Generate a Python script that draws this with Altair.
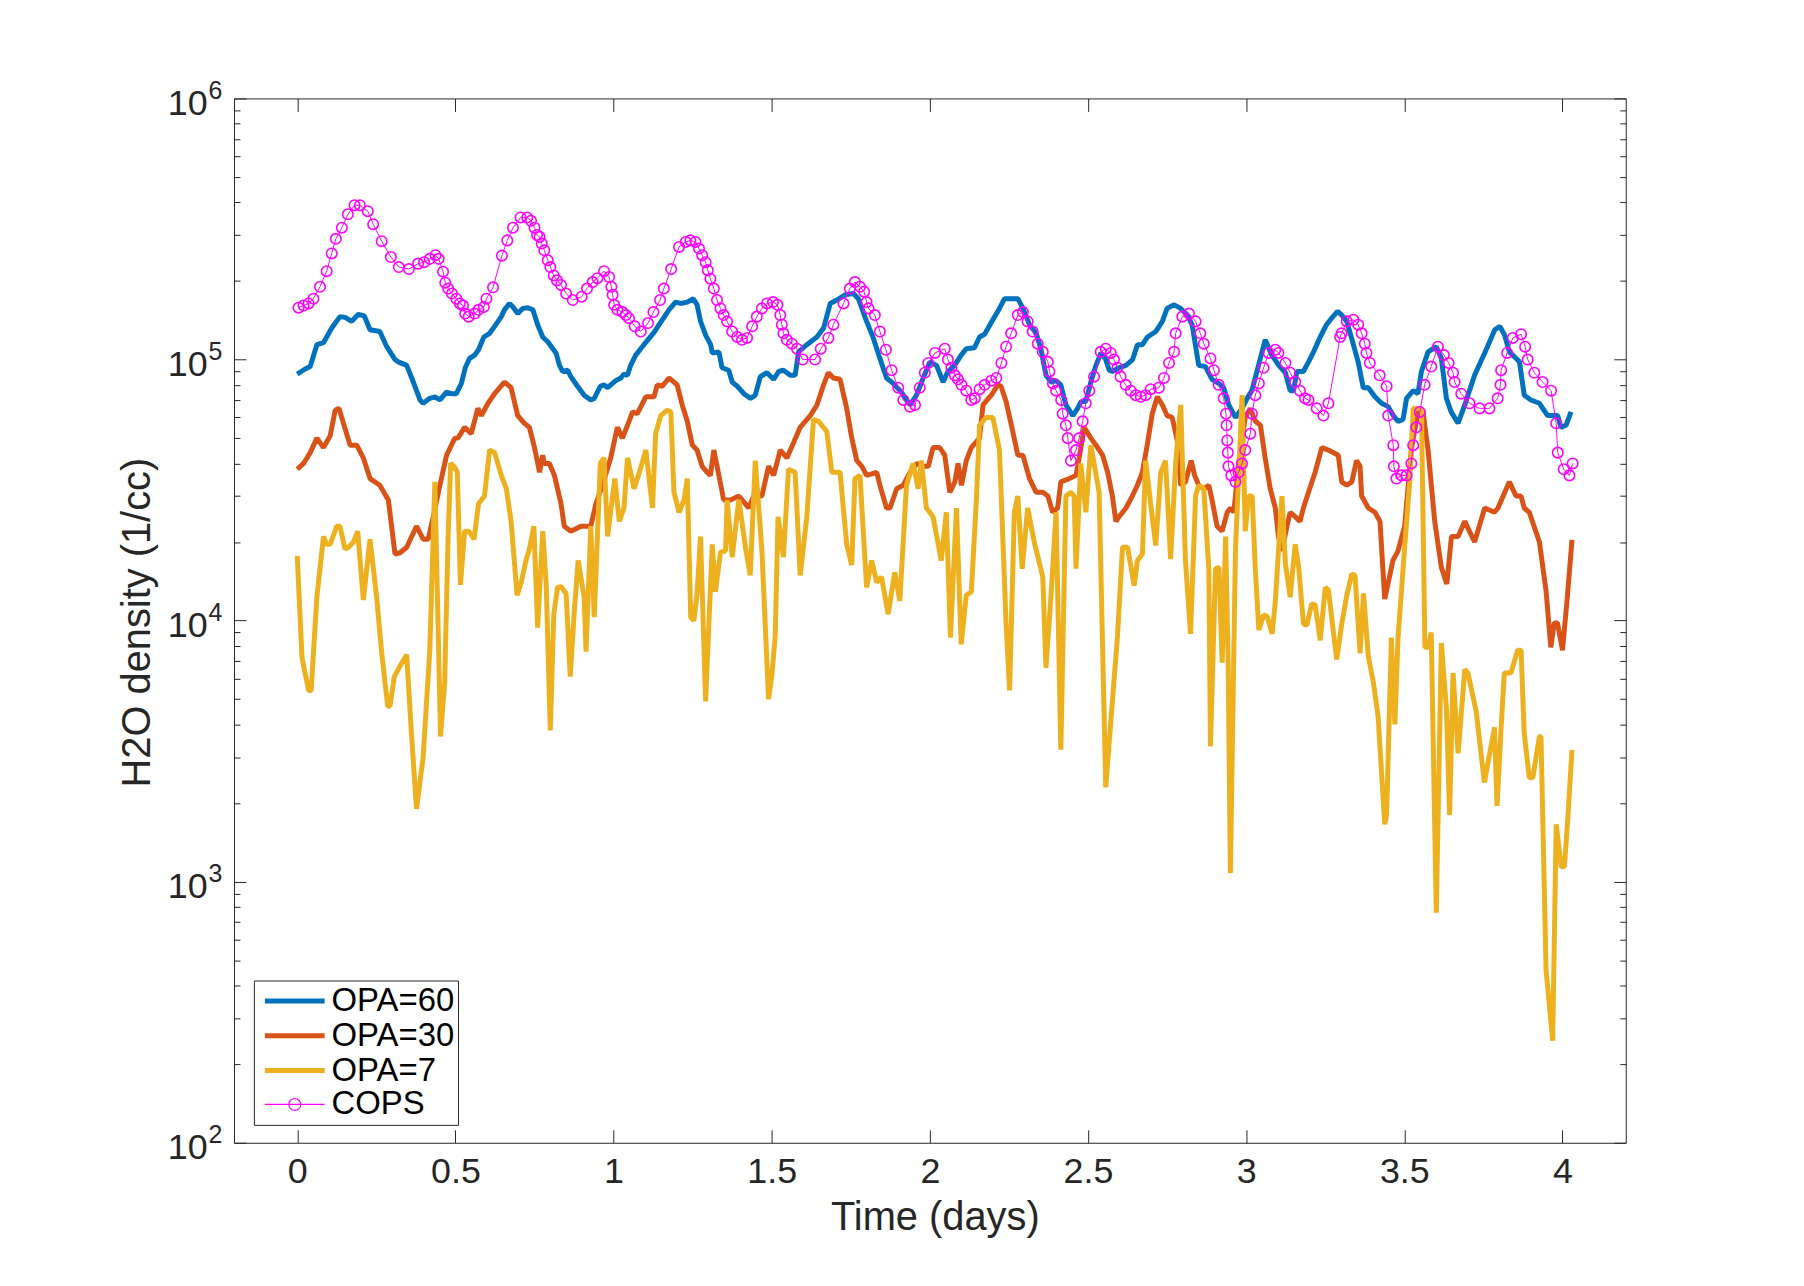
import altair as alt
import pandas as pd

# ---------------- data ----------------
series_names = ["OPA=60", "OPA=30", "OPA=7", "COPS"]
series_colors = ["#0072BD", "#D95319", "#EDB120", "#FF00FF"]

opa60_t = [0.000, 0.025, 0.041, 0.062, 0.083, 0.109, 0.135, 0.151, 0.172, 0.193, 0.212, 0.230, 0.261, 0.283, 0.309,
           0.319, 0.346, 0.367, 0.388, 0.398, 0.419, 0.435, 0.451, 0.472, 0.487, 0.503, 0.519, 0.531, 0.545, 0.561,
           0.573, 0.590, 0.608, 0.624, 0.645, 0.655, 0.671, 0.682, 0.697, 0.713, 0.729, 0.745, 0.760, 0.776, 0.792,
           0.808, 0.818, 0.829, 0.839, 0.855, 0.865, 0.886, 0.907, 0.928, 0.939, 0.958, 0.970, 0.981, 0.991, 1.007,
           1.023, 1.033, 1.044, 1.054, 1.070, 1.096, 1.128, 1.154, 1.175, 1.196, 1.212, 1.233, 1.252, 1.264, 1.275,
           1.291, 1.307, 1.312, 1.333, 1.343, 1.364, 1.375, 1.391, 1.412, 1.433, 1.448, 1.464, 1.485, 1.506, 1.522,
           1.537, 1.559, 1.574, 1.585, 1.611, 1.643, 1.664, 1.685, 1.706, 1.732, 1.758, 1.774, 1.800, 1.821, 1.842,
           1.863, 1.884, 1.910, 1.937, 1.958, 1.979, 2.000, 2.021, 2.042, 2.057, 2.078, 2.099, 2.115, 2.141, 2.157,
           2.173, 2.199, 2.220, 2.236, 2.262, 2.278, 2.294, 2.315, 2.336, 2.351, 2.367, 2.383, 2.399, 2.414, 2.430,
           2.452, 2.467, 2.478, 2.493, 2.509, 2.525, 2.541, 2.556, 2.567, 2.577, 2.598, 2.620, 2.641, 2.656, 2.672,
           2.688, 2.714, 2.735, 2.750, 2.772, 2.793, 2.814, 2.829, 2.850, 2.871, 2.892, 2.913, 2.929, 2.945, 2.966,
           2.987, 3.003, 3.018, 3.039, 3.060, 3.081, 3.103, 3.124, 3.139, 3.150, 3.160, 3.181, 3.197, 3.213, 3.234,
           3.254, 3.270, 3.289, 3.302, 3.318, 3.333, 3.354, 3.370, 3.386, 3.407, 3.428, 3.449, 3.465, 3.480, 3.496,
           3.507, 3.528, 3.543, 3.554, 3.575, 3.601, 3.617, 3.633, 3.648, 3.670, 3.691, 3.722, 3.754, 3.786, 3.802,
           3.817, 3.832, 3.864, 3.879, 3.900, 3.927, 3.953, 3.985, 3.995, 4.011, 4.027]
opa60_v = [8.8e4, 9.2e4, 9.4e4, 1.14e5, 1.16e5, 1.32e5, 1.46e5, 1.45e5, 1.40e5, 1.49e5, 1.47e5, 1.30e5, 1.28e5, 1.12e5, 1.00e5,
           9.8e4, 9.5e4, 8.2e4, 7.0e4, 6.8e4, 7.1e4, 7.2e4, 7.0e4, 7.5e4, 7.4e4, 7.4e4, 8.1e4, 9.3e4, 1.01e5, 1.04e5,
           1.09e5, 1.22e5, 1.26e5, 1.34e5, 1.46e5, 1.55e5, 1.64e5, 1.59e5, 1.50e5, 1.57e5, 1.58e5, 1.55e5, 1.36e5, 1.22e5, 1.17e5,
           1.10e5, 1.06e5, 9.5e4, 9.0e4, 9.1e4, 8.6e4, 7.9e4, 7.3e4, 7.0e4, 7.1e4, 7.9e4, 8.0e4, 7.8e4, 8.0e4, 8.3e4,
           8.5e4, 8.8e4, 8.7e4, 9.5e4, 1.04e5, 1.14e5, 1.27e5, 1.42e5, 1.55e5, 1.66e5, 1.64e5, 1.66e5, 1.71e5, 1.62e5, 1.40e5,
           1.24e5, 1.14e5, 1.06e5, 1.07e5, 9.3e4, 9.1e4, 8.2e4, 7.9e4, 7.4e4, 7.1e4, 7.3e4, 8.6e4, 8.9e4, 8.4e4, 9.0e4,
           9.1e4, 8.7e4, 8.7e4, 1.07e5, 1.14e5, 1.22e5, 1.32e5, 1.64e5, 1.69e5, 1.77e5, 1.79e5, 1.71e5, 1.40e5, 1.21e5, 1.01e5,
           8.5e4, 8.1e4, 7.5e4, 6.7e4, 7.3e4, 8.5e4, 9.8e4, 9.5e4, 8.2e4, 9.0e4, 9.5e4, 1.04e5, 1.10e5, 1.11e5, 1.22e5,
           1.25e5, 1.42e5, 1.57e5, 1.71e5, 1.71e5, 1.71e5, 1.57e5, 1.36e5, 1.26e5, 1.10e5, 8.7e4, 8.2e4, 8.3e4, 8.0e4, 6.7e4,
           6.1e4, 6.5e4, 6.9e4, 6.9e4, 8.2e4, 9.5e4, 1.06e5, 1.00e5, 9.1e4, 9.0e4, 9.3e4, 9.5e4, 1.00e5, 1.14e5, 1.14e5,
           1.22e5, 1.28e5, 1.40e5, 1.57e5, 1.62e5, 1.57e5, 1.48e5, 1.36e5, 9.5e4, 9.4e4, 8.4e4, 8.1e4, 7.8e4, 6.7e4, 6.0e4,
           6.5e4, 7.1e4, 7.6e4, 9.5e4, 1.19e5, 1.04e5, 9.5e4, 8.9e4, 7.6e4, 7.6e4, 9.0e4, 9.0e4, 9.8e4, 1.07e5, 1.22e5,
           1.36e5, 1.44e5, 1.53e5, 1.48e5, 1.40e5, 1.21e5, 9.8e4, 7.8e4, 7.8e4, 7.2e4, 6.8e4, 6.6e4, 6.1e4, 5.8e4, 5.9e4,
           7.1e4, 7.6e4, 7.4e4, 9.0e4, 1.07e5, 1.12e5, 1.01e5, 7.1e4, 6.3e4, 5.7e4, 6.7e4, 8.7e4, 1.06e5, 1.30e5, 1.34e5,
           1.24e5, 1.07e5, 9.8e4, 7.3e4, 7.0e4, 6.8e4, 6.1e4, 6.1e4, 5.5e4, 5.6e4, 6.3e4]

opa30_t = [0.000, 0.020, 0.041, 0.062, 0.083, 0.104, 0.120, 0.132, 0.146, 0.167, 0.188, 0.209, 0.230, 0.261, 0.288,
           0.309, 0.325, 0.346, 0.377, 0.398, 0.414, 0.430, 0.451, 0.472, 0.498, 0.508, 0.529, 0.550, 0.571, 0.582,
           0.603, 0.624, 0.655, 0.676, 0.697, 0.718, 0.734, 0.750, 0.766, 0.776, 0.781, 0.797, 0.813, 0.834, 0.844,
           0.865, 0.897, 0.928, 0.944, 0.965, 0.991, 1.012, 1.028, 1.049, 1.060, 1.075, 1.102, 1.128, 1.138, 1.154,
           1.175, 1.201, 1.217, 1.233, 1.249, 1.264, 1.280, 1.296, 1.306, 1.317, 1.333, 1.348, 1.370, 1.396, 1.417,
           1.427, 1.443, 1.469, 1.490, 1.506, 1.527, 1.548, 1.569, 1.590, 1.622, 1.643, 1.664, 1.679, 1.695, 1.716,
           1.737, 1.753, 1.769, 1.785, 1.800, 1.832, 1.842, 1.863, 1.874, 1.895, 1.916, 1.937, 1.958, 1.979, 1.995,
           2.010, 2.031, 2.047, 2.063, 2.079, 2.089, 2.100, 2.115, 2.131, 2.157, 2.168, 2.194, 2.215, 2.225, 2.241,
           2.262, 2.278, 2.294, 2.315, 2.336, 2.357, 2.373, 2.388, 2.404, 2.414, 2.441, 2.462, 2.472, 2.488, 2.509,
           2.525, 2.546, 2.562, 2.577, 2.588, 2.598, 2.620, 2.640, 2.656, 2.672, 2.687, 2.703, 2.719, 2.735, 2.750,
           2.766, 2.782, 2.793, 2.808, 2.826, 2.837, 2.850, 2.866, 2.882, 2.892, 2.908, 2.924, 2.940, 2.950, 2.961,
           2.976, 2.997, 3.013, 3.029, 3.045, 3.060, 3.076, 3.092, 3.102, 3.113, 3.129, 3.139, 3.155, 3.170, 3.181,
           3.197, 3.218, 3.239, 3.260, 3.291, 3.302, 3.318, 3.334, 3.349, 3.360, 3.365, 3.386, 3.407, 3.423, 3.438,
           3.464, 3.480, 3.501, 3.522, 3.543, 3.559, 3.575, 3.596, 3.617, 3.634, 3.649, 3.670, 3.691, 3.722, 3.754,
           3.785, 3.796, 3.832, 3.853, 3.869, 3.879, 3.895, 3.927, 3.948, 3.963, 3.974, 3.984, 4.000, 4.016, 4.030]
opa30_v = [3.8e4, 4.0e4, 4.4e4, 5.0e4, 4.6e4, 5.1e4, 6.4e4, 6.5e4, 5.7e4, 4.7e4, 4.7e4, 4.2e4, 3.5e4, 3.3e4, 2.9e4,
           1.80e4, 1.82e4, 1.91e4, 2.3e4, 2.05e4, 2.05e4, 2.5e4, 3.3e4, 4.3e4, 5.0e4, 5.0e4, 5.5e4, 5.2e4, 6.5e4, 6.1e4,
           6.8e4, 7.4e4, 8.2e4, 7.8e4, 6.1e4, 5.7e4, 5.5e4, 4.6e4, 3.7e4, 4.3e4, 4.0e4, 4.0e4, 3.6e4, 2.8e4, 2.3e4,
           2.2e4, 2.3e4, 2.3e4, 2.8e4, 3.3e4, 4.2e4, 5.5e4, 5.0e4, 5.8e4, 6.3e4, 6.2e4, 7.2e4, 7.2e4, 8.0e4, 7.9e4,
           8.5e4, 8.0e4, 6.7e4, 5.8e4, 4.7e4, 4.5e4, 3.9e4, 3.7e4, 3.6e4, 4.5e4, 3.6e4, 2.9e4, 2.9e4, 3.0e4, 2.8e4,
           2.7e4, 3.0e4, 3.0e4, 3.9e4, 3.6e4, 4.5e4, 4.2e4, 4.8e4, 5.5e4, 6.1e4, 6.7e4, 8.0e4, 8.9e4, 8.5e4, 8.4e4,
           6.5e4, 5.0e4, 4.1e4, 3.9e4, 3.6e4, 3.7e4, 3.3e4, 2.7e4, 2.7e4, 3.2e4, 3.3e4, 3.7e4, 4.0e4, 3.9e4, 3.9e4,
           4.6e4, 4.6e4, 4.3e4, 3.1e4, 3.4e4, 4.0e4, 3.3e4, 4.1e4, 4.6e4, 5.0e4, 6.7e4, 7.3e4, 8.0e4, 7.9e4, 6.9e4,
           5.3e4, 4.3e4, 4.3e4, 3.5e4, 3.1e4, 3.1e4, 3.0e4, 2.6e4, 2.7e4, 3.4e4, 3.5e4, 3.6e4, 4.2e4, 5.5e4, 5.0e4,
           4.7e4, 4.3e4, 3.7e4, 3.0e4, 2.4e4, 2.5e4, 2.7e4, 3.0e4, 3.3e4, 3.7e4, 4.7e4, 6.2e4, 7.2e4, 6.7e4, 6.1e4,
           6.0e4, 4.9e4, 3.3e4, 3.4e4, 4.1e4, 3.6e4, 3.3e4, 3.2e4, 3.3e4, 2.9e4, 2.3e4, 2.2e4, 2.6e4, 2.7e4, 2.6e4,
           4.0e4, 6.0e4, 6.5e4, 5.8e4, 5.6e4, 4.2e4, 3.2e4, 2.7e4, 2.1e4, 1.85e4, 2.3e4, 2.6e4, 2.5e4, 2.4e4, 2.7e4,
           3.1e4, 3.7e4, 4.6e4, 4.5e4, 4.3e4, 3.4e4, 3.3e4, 3.4e4, 4.1e4, 3.9e4, 3.0e4, 2.7e4, 2.6e4, 2.4e4, 1.21e4,
           1.7e4, 1.85e4, 2.3e4, 4.5e4, 6.3e4, 6.3e4, 4.5e4, 2.4e4, 1.6e4, 1.38e4, 2.1e4, 2.1e4, 2.4e4, 2.0e4, 2.7e4,
           2.6e4, 2.7e4, 3.4e4, 3.0e4, 3.0e4, 2.7e4, 2.6e4, 2.0e4, 1.3e4, 7.9e3, 9.8e3, 9.8e3, 7.7e3, 1.26e4, 2.04e4]

opa7_t = [0.000, 0.015, 0.036, 0.044, 0.062, 0.083, 0.093, 0.104, 0.125, 0.135, 0.151, 0.162, 0.177, 0.191, 0.209,
          0.230, 0.251, 0.267, 0.286, 0.293, 0.307, 0.325, 0.346, 0.361, 0.377, 0.398, 0.419, 0.435, 0.453, 0.466,
          0.477, 0.485, 0.496, 0.506, 0.516, 0.529, 0.542, 0.559, 0.573, 0.592, 0.608, 0.624, 0.645, 0.661, 0.676,
          0.695, 0.708, 0.724, 0.734, 0.748, 0.760, 0.776, 0.787, 0.800, 0.811, 0.823, 0.834, 0.850, 0.863, 0.876,
          0.888, 0.907, 0.913, 0.928, 0.939, 0.958, 0.970, 0.981, 1.004, 1.018, 1.033, 1.044, 1.065, 1.086, 1.102,
          1.123, 1.133, 1.149, 1.170, 1.181, 1.191, 1.207, 1.223, 1.233, 1.244, 1.254, 1.264, 1.275, 1.291, 1.312,
          1.322, 1.338, 1.354, 1.359, 1.375, 1.396, 1.417, 1.432, 1.448, 1.469, 1.490, 1.500, 1.511, 1.520, 1.537,
          1.553, 1.574, 1.590, 1.611, 1.632, 1.648, 1.674, 1.690, 1.716, 1.737, 1.753, 1.763, 1.779, 1.800, 1.816,
          1.832, 1.847, 1.868, 1.889, 1.905, 1.926, 1.947, 1.963, 1.973, 1.989, 2.010, 2.036, 2.052, 2.065, 2.084,
          2.099, 2.115, 2.131, 2.147, 2.157, 2.178, 2.199, 2.220, 2.241, 2.252, 2.267, 2.278, 2.292, 2.309, 2.330,
          2.357, 2.367, 2.383, 2.399, 2.414, 2.430, 2.446, 2.456, 2.462, 2.477, 2.493, 2.509, 2.535, 2.556, 2.593,
          2.609, 2.625, 2.646, 2.656, 2.672, 2.682, 2.698, 2.714, 2.730, 2.745, 2.761, 2.777, 2.793, 2.808, 2.824,
          2.840, 2.850, 2.866, 2.882, 2.887, 2.903, 2.914, 2.924, 2.935, 2.943, 2.950, 2.966, 2.987, 2.997, 3.008,
          3.019, 3.029, 3.040, 3.055, 3.066, 3.082, 3.092, 3.113, 3.124, 3.139, 3.155, 3.166, 3.181, 3.192, 3.207,
          3.218, 3.234, 3.250, 3.260, 3.286, 3.302, 3.318, 3.334, 3.344, 3.360, 3.371, 3.386, 3.402, 3.417, 3.428,
          3.438, 3.444, 3.459, 3.470, 3.480, 3.501, 3.517, 3.528, 3.554, 3.565, 3.576, 3.585, 3.601, 3.617, 3.633,
          3.643, 3.654, 3.670, 3.691, 3.701, 3.727, 3.753, 3.785, 3.793, 3.806, 3.816, 3.837, 3.858, 3.869, 3.879,
          3.895, 3.906, 3.927, 3.932, 3.948, 3.969, 3.980, 3.996, 4.006, 4.017, 4.030]
opa7_v = [1.77e4, 7.2e3, 5.4e3, 5.4e3, 1.23e4, 2.1e4, 1.96e4, 1.96e4, 2.3e4, 2.3e4, 1.88e4, 1.91e4, 1.99e4, 2.2e4, 1.2e4,
          2.05e4, 1.23e4, 7.5e3, 4.7e3, 4.7e3, 6.1e3, 6.7e3, 7.4e3, 3.7e3, 1.9e3, 3.0e3, 7.7e3, 3.4e4, 3.6e3, 5.8e3,
          2.1e4, 4.0e4, 3.9e4, 3.7e4, 1.37e4, 2.2e4, 2.2e4, 2.05e4, 2.8e4, 3.0e4, 4.5e4, 4.4e4, 3.6e4, 3.2e4, 2.4e4,
          1.25e4, 1.40e4, 1.72e4, 1.88e4, 2.3e4, 9.4e3, 2.2e4, 1.38e4, 3.8e3, 1.06e4, 1.34e4, 1.35e4, 1.27e4, 6.1e3, 1.09e4,
          1.70e4, 1.23e4, 7.6e3, 2.3e4, 1.03e4, 4.0e4, 4.2e4, 2.1e4, 3.5e4, 2.4e4, 2.7e4, 4.2e4, 3.2e4, 3.85e4, 4.5e4,
          2.7e4, 5.2e4, 6.1e4, 6.4e4, 6.3e4, 3.1e4, 2.6e4, 2.9e4, 3.5e4, 1.03e4, 1.0e4, 1.27e4, 2.1e4, 4.9e3, 1.96e4,
          1.29e4, 1.83e4, 1.85e4, 2.9e4, 1.75e4, 2.9e4, 1.91e4, 1.49e4, 4.1e4, 1.85e4, 5.0e3, 6.1e3, 8.7e3, 2.5e4, 1.75e4,
          3.8e4, 3.7e4, 1.49e4, 2.5e4, 5.9e4, 5.8e4, 5.3e4, 3.7e4, 3.7e4, 1.96e4, 1.63e4, 3.5e4, 3.6e4, 1.34e4, 1.70e4,
          1.40e4, 1.47e4, 1.06e4, 1.53e4, 1.19e4, 3.3e4, 4.0e4, 3.2e4, 4.1e4, 2.7e4, 2.5e4, 1.70e4, 2.6e4, 8.6e3, 2.7e4,
          8.1e3, 1.25e4, 1.29e4, 2.9e4, 5.6e4, 6.0e4, 6.0e4, 4.5e4, 9.7e3, 5.4e3, 2.6e4, 3.0e4, 1.58e4, 2.7e4, 2.0e4,
          1.47e4, 6.6e3, 1.25e4, 2.6e4, 3.2e3, 3.0e4, 3.1e4, 3.0e4, 1.58e4, 4.0e4, 2.6e4, 4.7e4, 3.1e4, 2.3e3, 8.7e3,
          1.91e4, 1.91e4, 1.36e4, 1.70e4, 1.80e4, 4.1e4, 2.8e4, 1.94e4, 3.7e4, 4.1e4, 1.72e4, 4.0e4, 6.7e4, 1.70e4, 8.9e3,
          3.0e4, 3.3e4, 3.2e4, 1.56e4, 3.3e3, 1.58e4, 1.6e4, 6.9e3, 2.1e4, 6.9e3, 1.08e3, 1.86e4, 7.3e4, 2.2e4, 3.0e4,
          3.0e4, 1.56e4, 9.2e3, 1.05e4, 1.04e4, 8.9e3, 1.18e4, 3.0e4, 1.65e4, 1.23e4, 1.96e4, 1.6e4, 9.7e3, 9.6e3, 1.16e4,
          1.15e4, 8.4e3, 1.34e4, 1.31e4, 7.1e3, 9.7e3, 1.25e4, 1.51e4, 1.49e4, 7.5e3, 1.27e4, 7.3e3, 5.8e3, 4.3e3, 2.6e3,
          1.66e3, 1.8e3, 8.6e3, 4.0e3, 8.6e3, 1.91e4, 3.4e4, 6.5e4, 6.5e4, 7.9e3, 7.9e3, 9.0e3, 7.6e2, 8.2e3, 4.6e3,
          1.8e3, 6.3e3, 3.1e3, 6.5e3, 6.3e3, 4.5e3, 2.4e3, 3.9e3, 1.95e3, 3.9e3, 6.3e3, 6.3e3, 7.7e3, 7.7e3, 3.7e3,
          2.5e3, 2.5e3, 3.6e3, 3.6e3, 4.6e2, 2.46e2, 1.66e3, 1.14e3, 1.14e3, 1.76e3, 3.2e3]

cops_t = [0.004, 0.020, 0.036, 0.051, 0.072, 0.093, 0.109, 0.122, 0.141, 0.160, 0.181, 0.198, 0.223, 0.240, 0.267,
          0.296, 0.321, 0.353, 0.382, 0.401, 0.419, 0.437, 0.447, 0.461, 0.468, 0.477, 0.489, 0.503, 0.514, 0.524,
          0.531, 0.542, 0.561, 0.573, 0.590, 0.598, 0.619, 0.647, 0.664, 0.682, 0.706, 0.727, 0.739, 0.750, 0.758,
          0.766, 0.773, 0.781, 0.792, 0.800, 0.811, 0.821, 0.834, 0.850, 0.871, 0.899, 0.916, 0.934, 0.949, 0.970,
          0.986, 0.993, 0.997, 1.002, 1.012, 1.028, 1.039, 1.049, 1.067, 1.086, 1.109, 1.126, 1.147, 1.159, 1.182,
          1.207, 1.228, 1.243, 1.259, 1.270, 1.280, 1.291, 1.298, 1.306, 1.317, 1.327, 1.338, 1.348, 1.359, 1.375,
          1.391, 1.406, 1.422, 1.438, 1.453, 1.469, 1.485, 1.504, 1.518, 1.527, 1.532, 1.537, 1.548, 1.564, 1.580,
          1.598, 1.637, 1.655, 1.679, 1.695, 1.727, 1.747, 1.763, 1.779, 1.792, 1.800, 1.806, 1.826, 1.842, 1.861,
          1.879, 1.900, 1.916, 1.937, 1.953, 1.968, 1.984, 1.995, 2.016, 2.047, 2.057, 2.068, 2.079, 2.089, 2.100,
          2.115, 2.131, 2.142, 2.157, 2.173, 2.194, 2.210, 2.226, 2.241, 2.257, 2.278, 2.294, 2.309, 2.325, 2.341,
          2.357, 2.373, 2.378, 2.389, 2.399, 2.415, 2.420, 2.430, 2.436, 2.446, 2.462, 2.472, 2.483, 2.493, 2.504,
          2.519, 2.540, 2.556, 2.572, 2.582, 2.593, 2.603, 2.619, 2.635, 2.651, 2.667, 2.682, 2.698, 2.724, 2.740,
          2.756, 2.772, 2.777, 2.798, 2.819, 2.840, 2.855, 2.866, 2.887, 2.898, 2.913, 2.929, 2.936, 2.938, 2.940,
          2.942, 2.944, 2.953, 2.966, 2.976, 2.987, 2.997, 3.013, 3.018, 3.029, 3.040, 3.055, 3.071, 3.092, 3.102,
          3.124, 3.139, 3.155, 3.170, 3.186, 3.197, 3.223, 3.244, 3.260, 3.297, 3.302, 3.318, 3.339, 3.354, 3.365,
          3.375, 3.380, 3.391, 3.422, 3.444, 3.449, 3.465, 3.467, 3.475, 3.491, 3.507, 3.522, 3.528, 3.538, 3.549,
          3.564, 3.585, 3.606, 3.625, 3.640, 3.654, 3.659, 3.680, 3.706, 3.738, 3.769, 3.795, 3.804, 3.806, 3.825,
          3.843, 3.869, 3.882, 3.890, 3.911, 3.937, 3.964, 3.980, 3.985, 4.004, 4.022, 4.032]
cops_v = [1.58e5, 1.61e5, 1.64e5, 1.71e5, 1.90e5, 2.18e5, 2.55e5, 2.9e5, 3.2e5, 3.6e5, 3.9e5, 3.9e5, 3.7e5, 3.3e5, 2.84e5,
          2.47e5, 2.26e5, 2.22e5, 2.33e5, 2.36e5, 2.43e5, 2.51e5, 2.43e5, 2.17e5, 1.97e5, 1.87e5, 1.79e5, 1.71e5, 1.64e5, 1.61e5,
          1.50e5, 1.46e5, 1.50e5, 1.55e5, 1.59e5, 1.71e5, 1.89e5, 2.5e5, 2.86e5, 3.2e5, 3.5e5, 3.5e5, 3.4e5, 3.2e5, 3.0e5,
          2.95e5, 2.78e5, 2.62e5, 2.40e5, 2.26e5, 2.10e5, 2.01e5, 1.93e5, 1.79e5, 1.69e5, 1.74e5, 1.87e5, 1.98e5, 2.05e5, 2.18e5,
          2.07e5, 1.90e5, 1.77e5, 1.62e5, 1.55e5, 1.52e5, 1.48e5, 1.44e5, 1.34e5, 1.28e5, 1.38e5, 1.52e5, 1.69e5, 1.87e5, 2.22e5,
          2.70e5, 2.82e5, 2.86e5, 2.82e5, 2.66e5, 2.51e5, 2.36e5, 2.20e5, 2.04e5, 1.87e5, 1.69e5, 1.57e5, 1.48e5, 1.40e5, 1.28e5,
          1.22e5, 1.19e5, 1.21e5, 1.34e5, 1.46e5, 1.57e5, 1.64e5, 1.66e5, 1.62e5, 1.48e5, 1.36e5, 1.26e5, 1.19e5, 1.15e5, 1.10e5,
          1.00e5, 1.00e5, 1.10e5, 1.21e5, 1.36e5, 1.64e5, 1.87e5, 1.98e5, 1.90e5, 1.82e5, 1.66e5, 1.57e5, 1.48e5, 1.28e5, 1.09e5,
          9.1e4, 7.8e4, 7.0e4, 6.6e4, 6.7e4, 7.8e4, 8.9e4, 9.7e4, 1.06e5, 1.10e5, 1.00e5, 9.3e4, 8.7e4, 8.4e4, 8.0e4,
          7.6e4, 7.0e4, 7.1e4, 7.7e4, 8.0e4, 8.3e4, 8.5e4, 9.7e4, 1.12e5, 1.26e5, 1.48e5, 1.52e5, 1.40e5, 1.28e5, 1.15e5,
          1.07e5, 9.8e4, 9.0e4, 8.1e4, 7.6e4, 7.0e4, 6.2e4, 5.6e4, 5.0e4, 4.1e4, 4.5e4, 5.0e4, 5.8e4, 6.8e4, 7.6e4,
          8.6e4, 1.07e5, 1.10e5, 1.06e5, 1.00e5, 9.3e4, 8.6e4, 8.0e4, 7.6e4, 7.3e4, 7.2e4, 7.3e4, 7.7e4, 7.8e4, 8.5e4,
          9.7e4, 1.07e5, 1.26e5, 1.46e5, 1.50e5, 1.40e5, 1.26e5, 1.15e5, 1.01e5, 9.1e4, 8.0e4, 7.1e4, 6.2e4, 5.6e4, 4.9e4,
          4.4e4, 3.9e4, 3.6e4, 3.4e4, 3.7e4, 4.0e4, 4.5e4, 5.2e4, 6.2e4, 7.3e4, 8.1e4, 9.3e4, 1.06e5, 1.09e5, 1.06e5,
          9.7e4, 8.9e4, 8.2e4, 7.6e4, 7.1e4, 7.0e4, 6.5e4, 6.1e4, 6.8e4, 1.22e5, 1.26e5, 1.40e5, 1.42e5, 1.36e5, 1.26e5,
          1.15e5, 1.06e5, 9.7e4, 8.7e4, 7.9e4, 6.1e4, 4.7e4, 3.9e4, 3.5e4, 3.6e4, 3.6e4, 4.0e4, 4.7e4, 5.5e4, 6.3e4,
          8.0e4, 9.4e4, 1.12e5, 1.04e5, 9.7e4, 8.9e4, 8.2e4, 7.4e4, 6.8e4, 6.5e4, 6.5e4, 7.1e4, 8.0e4, 9.1e4, 1.06e5,
          1.21e5, 1.25e5, 1.12e5, 1.00e5, 8.9e4, 8.2e4, 7.6e4, 5.7e4, 4.4e4, 3.8e4, 3.6e4, 4.0e4]

x_ticks = [0, 0.5, 1, 1.5, 2, 2.5, 3, 3.5, 4]
y_major = [1e2, 1e3, 1e4, 1e5, 1e6]
y_all_ticks = sorted(y_major + [m * 10 ** k for k in range(2, 6) for m in range(2, 10)])

# ---------------- build table ----------------
frames = []
for name, ts, vs in [("OPA=60", opa60_t, opa60_v), ("OPA=30", opa30_t, opa30_v),
                     ("OPA=7", opa7_t, opa7_v), ("COPS", cops_t, cops_v)]:
    frames.append(pd.DataFrame({"t": ts, "v": vs, "series": name}))
df = pd.concat(frames, ignore_index=True)

W, H = 1398, 1049
FONT = "Liberation Sans"
AX = "#262626"

xscale = alt.Scale(domain=[-0.2, 4.2], nice=False, zero=False)
yscale = alt.Scale(type="log", domain=[100, 1e6], nice=False)

major_test = "abs(log(datum.value)/LN10 - round(log(datum.value)/LN10)) < 0.001"
y_tick_size = {"condition": {"test": major_test, "value": 12}, "value": 6}

x_label_axis = alt.Axis(values=x_ticks, format="~g", ticks=False, tickSize=0, domain=False, grid=False,
                        labelFont=FONT, labelFontSize=36, labelColor=AX, labelPadding=40,
                        labelBaseline="alphabetic", labelFlush=False, labelOverlap=False,
                        title="Time (days)", titleFont=FONT, titleFontSize=40, titleColor=AX,
                        titleFontWeight="normal", titleX=704, titleY=87, titleBaseline="alphabetic",
                        titleAlign="center")
x_ticks_from_bottom = alt.Axis(orient="top", offset=-H, values=x_ticks, labels=False, domain=False,
                               grid=False, tickSize=13, tickColor=AX, tickWidth=1, title=None, zindex=1)
x_ticks_from_top = alt.Axis(orient="bottom", offset=-H, values=x_ticks, labels=False, domain=False,
                            grid=False, tickSize=13, tickColor=AX, tickWidth=1, title=None, zindex=1)

y_label_axis = alt.Axis(orient="left", values=y_major, labelExpr="'10'", ticks=False, tickSize=0,
                        domain=False, grid=False, labelFont=FONT, labelFontSize=36, labelColor=AX,
                        labelPadding=27, labelBaseline="middle", labelOffset=5, labelFlush=False,
                        labelOverlap=False,
                        title="H2O density (1/cc)", titleFont=FONT, titleFontSize=40, titleColor=AX,
                        titleFontWeight="normal", titleAngle=270, titleX=-97, titleY=526,
                        titleBaseline="middle", titleAlign="center")
y_exp_axis = alt.Axis(orient="left", values=y_major, labelExpr="'' + round(log(datum.value)/LN10)",
                      ticks=False, tickSize=0, domain=False, grid=False, labelFont=FONT,
                      labelFontSize=25, labelColor=AX, labelAlign="left", labelPadding=26,
                      labelBaseline="middle", labelOffset=-8, labelFlush=False, labelOverlap=False,
                      title=None)
y_ticks_from_left = alt.Axis(orient="right", offset=-W, values=y_all_ticks, labels=False, domain=False,
                             grid=False, tickSize=y_tick_size, tickColor=AX, tickWidth=1, title=None,
                             zindex=1)
y_ticks_from_right = alt.Axis(orient="left", offset=-W, values=y_all_ticks, labels=False, domain=False,
                              grid=False, tickSize=y_tick_size, tickColor=AX, tickWidth=1, title=None,
                              zindex=1)

base = alt.Chart(df)


def line_layer(name, color, width, xaxis, yaxis):
    return base.transform_filter(alt.datum.series == name).mark_line(
        color=color, strokeWidth=width, strokeJoin="bevel"
    ).encode(
        x=alt.X("t:Q", scale=xscale, axis=xaxis),
        y=alt.Y("v:Q", scale=yscale, axis=yaxis),
        order="t:Q",
    )


l60 = line_layer("OPA=60", series_colors[0], 5, x_label_axis, y_label_axis)
l30 = line_layer("OPA=30", series_colors[1], 5, x_ticks_from_bottom, y_ticks_from_left)
l7 = line_layer("OPA=7", series_colors[2], 5, x_ticks_from_top, y_ticks_from_right)
lcops = line_layer("COPS", series_colors[3], 1, None, y_exp_axis)

pcops = base.transform_filter(alt.datum.series == "COPS").mark_point(
    shape="circle", filled=False, size=110, strokeWidth=1.6, color=series_colors[3], opacity=1
).encode(
    x=alt.X("t:Q", scale=xscale, axis=None),
    y=alt.Y("v:Q", scale=yscale, axis=None),
)

# legend symbols: horizontal line, COPS with a circle marker
line_sym = "M-0.633,0H3.367"
cops_sym = "M-0.633,0H3.367M0.967,0A0.4,0.4,0,1,1,1.767,0A0.4,0.4,0,1,1,0.967,0"
leg = alt.Legend(title=None)
legend_layer = base.transform_filter("false").mark_point(filled=False, opacity=1).encode(
    x=alt.X("t:Q", scale=xscale, axis=None),
    y=alt.Y("v:Q", scale=yscale, axis=None),
    color=alt.Color("series:N", scale=alt.Scale(domain=series_names, range=series_colors), legend=leg),
    shape=alt.Shape("series:N", scale=alt.Scale(domain=series_names,
                                                range=[line_sym, line_sym, line_sym, cops_sym]), legend=leg),
    strokeWidth=alt.StrokeWidth("series:N", scale=alt.Scale(type="ordinal", domain=series_names,
                                                            range=[5, 5, 5, 1.2]), legend=leg),
)

chart = alt.layer(l60, l30, l7, lcops, pcops, legend_layer).resolve_axis(
    x="independent", y="independent"
).properties(
    width=W, height=H,
    padding={"left": 227, "top": 88, "right": 171, "bottom": 141},
    autosize=alt.AutoSizeParams(type="none"),
    background="white",
).configure_view(
    stroke=AX, strokeWidth=1
).configure_legend(
    orient="none", legendX=20, legendY=886, direction="vertical",
    padding=3, rowPadding=-1, symbolSize=900, labelOffset=40,
    labelFont=FONT, labelFontSize=33, labelColor="black",
    strokeColor=AX, fillColor="white", symbolFillColor="transparent",
)

chart.save("out.html", embed_options={"renderer": "svg", "actions": False})
